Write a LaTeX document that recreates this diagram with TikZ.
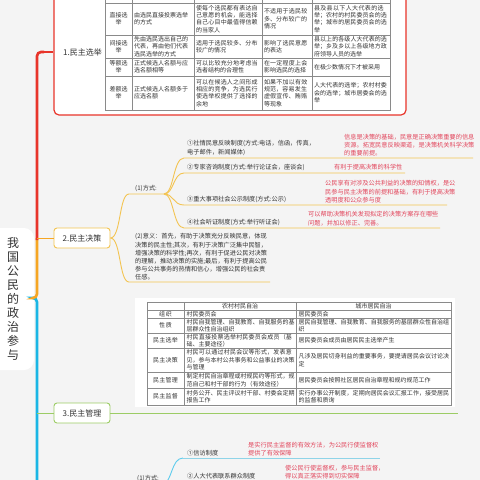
\documentclass[tikz,border=0pt]{standalone}
\usepackage{fontspec}
\setmainfont{Noto Sans CJK SC}
\XeTeXlinebreaklocale "zh"
\XeTeXlinebreakskip=0pt plus 1pt
\definecolor{bgc}{HTML}{F4F4F4}
\definecolor{txt}{HTML}{333333}
\definecolor{notec}{HTML}{E2455B}
\definecolor{cRed}{HTML}{E8342A}
\definecolor{cOrg}{HTML}{F6A623}
\definecolor{cOrgL}{HTML}{F3C452}
\definecolor{cCyan}{HTML}{1AB6E5}
\definecolor{cCyanL}{HTML}{8FD4E8}
\definecolor{cGreen}{HTML}{9CCC65}
\definecolor{grid}{HTML}{8A8A8A}
\begin{document}
\begin{tikzpicture}[x=1pt,y=-1pt,
  tx/.style={font=\fontsize{6.2}{8.2}\selectfont, text=txt, inner sep=0pt, align=left},
  notetx/.style={tx, text=notec},
  tc/.style={font=\fontsize{6}{7.3}\selectfont, text=txt, inner sep=0pt, align=left},
  tcc/.style={tc, align=center},
  td/.style={font=\fontsize{6}{7.5}\selectfont, text=txt, inner sep=0pt, align=left},
  tdc/.style={td, align=center},
  branchbox/.style={draw, rounded corners=3pt, fill=white, line width=0.9pt, minimum width=56pt, minimum height=20pt, inner sep=0pt, font=\fontsize{8}{9}\selectfont, text=txt},
  trunk/.style={line width=2.6pt, rounded corners=4pt},
  b2line/.style={cOrgL, line width=0.9pt},
  b4line/.style={cCyanL, line width=0.9pt},
  gridline/.style={grid, line width=0.45pt}
]
\useasboundingbox (0,0) rectangle (480,480);
\fill[bgc] (0,0) rectangle (480,480);

% ---------- root ----------
\node[fill=white, rounded corners=10pt, minimum width=46pt, minimum height=142pt, inner sep=0pt] (root) at (11,299) {};
\node[font=\fontsize{12}{14}\selectfont, text=txt, align=center, inner sep=0pt] (roottext) at (13,299) {我\\国\\公\\民\\的\\政\\治\\参\\与};

% ---------- trunk ----------
\draw[trunk, cCyan] (root.east |- 0,298) -| (37,490);
\draw[trunk, cOrg] (root.east |- 0,298) -| (37,238);
\draw[trunk, cRed] (37,240) |- (44,52);

% ---------- branch 1 ----------
\node[draw=cRed, line width=1.2pt, rounded corners=5pt, fill=white, minimum width=352pt, minimum height=125pt, inner sep=0pt] (frame) at (230,52.5) {};
\draw[cRed, line width=1.4pt] (42,52) -- (frame.west |- 0,52);
\node[font=\fontsize{8}{9}\selectfont, text=txt, inner sep=0pt, anchor=west] (b1) at (63,52) {1.民主选举};

% table 1 grid
\draw[gridline] (105,-12) -- (105,110) -- (390,110) -- (390,-12);
\foreach \xx in {132,194,262,312} \draw[gridline] (\xx,-12) -- (\xx,110);
\foreach \yy in {3,35,58,76} \draw[gridline] (105,\yy) -- (390,\yy);

% row 1
\node[tcc] (t11) at (118.5,19) {直接选\\举};
\node[tc, text width=54pt] (t12) at (161,19) {由选民直接投票选举的方式};
\node[tc, text width=64pt] (t13) at (228,19) {使每个选民都有表达自己意愿的机会，能选择自己心目中最值得信赖的当家人};
\node[tc, text width=46pt] (t14) at (287,19) {不适用于选民较多、分布较广的情况};
\node[tc, text width=74pt] (t15) at (351,19) {县及县以下人大代表的选举；农村的村民委员会的选举；城市的居民委员会的选举};
% row 2
\node[tcc] (t21) at (118.5,46.5) {间接选\\举};
\node[tc, text width=54pt] (t22) at (161,46.5) {先由选民选出自己的代表，再由他们代表选民选举的方式};
\node[tc, text width=64pt] (t23) at (228,46.5) {适用于选民较多、分布较广的情况};
\node[tc, text width=46pt] (t24) at (287,46.5) {影响了选民意愿的表达};
\node[tc, text width=74pt] (t25) at (351,46.5) {县以上的各级人大代表的选举；乡及乡以上各级地方政府领导人员的选举};
% row 3
\node[tcc] (t31) at (118.5,67) {等额选\\举};
\node[tc, text width=54pt] (t32) at (161,67) {正式候选人名额与应选名额相等};
\node[tc, text width=64pt] (t33) at (228,67) {可以比较充分地考虑当选者结构的合理性};
\node[tc, text width=46pt] (t34) at (287,67) {在一定程度上会影响选民的选择};
\node[tc, text width=74pt] (t35) at (351,67) {在极少数情况下才被采用};
% row 4
\node[tcc] (t41) at (118.5,93) {差额选\\举};
\node[tc, text width=54pt] (t42) at (161,93) {正式候选人名额多于应选名额};
\node[tc, text width=64pt] (t43) at (228,93) {可以在候选人之间形成相应的竞争，为选民行使选举权提供了选择的余地};
\node[tc, text width=46pt] (t44) at (287,93) {如果不加以有效规范，容易发生虚假宣传、贿赂等现象};
\node[tc, text width=74pt] (t45) at (351,93) {人大代表的选举；农村村委会的选举；城市居委会的选举};

% ---------- branch 2 ----------
\node[branchbox, draw=cOrgL] (b2) at (82,238) {2.民主决策};
\draw[cOrg, line width=0.9pt] (37,238) -- (b2.west);

\coordinate (m1a) at (129,194);
\coordinate (m1b) at (164,194);
\node[tx, anchor=south west] (m1) at (135,192) {(1)方式:};
\draw[b2line] (b2.east) .. controls (121,238) and (119,194) .. (m1a) -- (m1b);

\coordinate (i1) at (184,158);
\coordinate (i2) at (184,173);
\coordinate (i3) at (184,205);
\coordinate (i4) at (184,228);
\draw[b2line] (m1b) .. controls (174,194) and (173,158) .. (i1) -- (473,158);
\draw[b2line] (m1b) .. controls (174,194) and (173,173) .. (i2) -- (405,173);
\draw[b2line] (m1b) .. controls (174,194) and (173,205) .. (i3) -- (447,205);
\draw[b2line] (m1b) .. controls (174,194) and (173,228) .. (i4) -- (440,228);

\node[tx, anchor=south west] (w1) at (187,155.5) {①社情民意反映制度(方式:电话，信函，传真，\\电子邮件，新闻媒体)};
\node[tx, anchor=south west] (w2) at (187,171) {②专家咨询制度(方式:举行论证会，座谈会)};
\node[tx, anchor=south west] (w3) at (187,203) {③重大事项社会公示制度(方式:公示)};
\node[tx, anchor=south west] (w4) at (187,226) {④社会听证制度(方式:举行听证会)};

\node[notetx, anchor=south west] (n1) at (344,156.5) {信息是决策的基础，民意是正确决策重要的信息\\资源。拓宽民意反映渠道，是决策机关科学决策\\的重要前提。};
\node[notetx, anchor=south west] (n2) at (334,170) {有利于提高决策的科学性};
\node[notetx, anchor=south west] (n3) at (325,203) {公民享有对涉及公共利益的决策的知情权，是公\\民参与民主决策的前提和基础，有利于提高决策\\透明度和公众参与度};
\node[notetx, anchor=south west] (n4) at (308,226) {可以帮助决策机关发现拟定的决策方案存在哪些\\问题，并加以修正、完善。};

\draw[b2line] (b2.east) .. controls (121,238) and (119,282) .. (129,282) -- (270,282);
\node[tx, anchor=south west] (m2) at (135,280.5) {(2)意义：首先，有助于决策充分反映民意，体现\\决策的民主性;其次，有利于决策广泛集中民智，\\增强决策的科学性;再次，有利于促进公民对决策\\的理解，推动决策的实施;最后，有利于提高公民\\参与公共事务的热情和信心，增强公民的社会责\\任感。};

% ---------- branch 3 ----------
\fill[white] (135,298) rectangle (455,407);
\draw[gridline] (147,302) rectangle (451,405);
\foreach \xx in {184,296} \draw[gridline] (\xx,302) -- (\xx,405);
\foreach \yy in {310,318,333,348,372,388} \draw[gridline] (147,\yy) -- (451,\yy);

\node[tdc] (h2) at (240,306) {农村村民自治};
\node[tdc] (h3) at (373.5,306) {城市居民自治};

\node[tdc, text width=33pt] (s11) at (165.5,314) {组织};
\node[td, text width=108pt] (s12) at (240.5,314) {村民委员会};
\node[td, text width=151pt] (s13) at (374,314) {居民委员会};

\node[tdc, text width=33pt] (s21) at (165.5,325.5) {性质};
\node[td, text width=108pt] (s22) at (240.5,325.5) {村民自我管理、自我教育、自我服务的基层群众性自治组织};
\node[td, text width=151pt] (s23) at (374,325.5) {居民自我管理、自我教育、自我服务的基层群众性自治组织};

\node[tdc, text width=33pt] (s31) at (165.5,340.5) {民主选举};
\node[td, text width=108pt] (s32) at (240.5,340.5) {村民直接投票选举村民委员会成员（基础、主要途径）};
\node[td, text width=151pt] (s33) at (374,340.5) {居民委员会成员由居民民主选举产生};

\node[tdc, text width=33pt] (s41) at (165.5,360) {民主决策};
\node[td, text width=108pt] (s42) at (240.5,360) {村民可以通过村民会议等形式，发表意见，参与本村公共事务和公益事业的决策与管理};
\node[td, text width=151pt] (s43) at (374,360) {凡涉及居民切身利益的重要事务，要提请居民会议讨论决定};

\node[tdc, text width=33pt] (s51) at (165.5,380) {民主管理};
\node[td, text width=108pt] (s52) at (240.5,380) {制定村民自治章程或村规民约等形式，规范自己和村干部的行为（有效途径）};
\node[td, text width=151pt] (s53) at (374,380) {居民委员会按照社区居民自治章程和规约规范工作};

\node[tdc, text width=33pt] (s61) at (165.5,396.5) {民主监督};
\node[td, text width=108pt] (s62) at (240.5,396.5) {村务公开、民主评议村干部、村委会定期报告工作};
\node[td, text width=151pt] (s63) at (374,396.5) {实行办事公开制度，定期向居民会议汇报工作，接受居民的监督和质询};

\node[branchbox, draw=cGreen] (b3) at (82,413) {3.民主管理};
\draw[cGreen, line width=0.9pt] (37,413) -- (b3.west);
\draw[cGreen, line width=0.9pt] (b3.east) -- (458,413);

% ---------- branch 4 (partly visible) ----------
\coordinate (p1a) at (130,483.5);
\coordinate (p1b) at (163,483.5);
\node[tx, anchor=south west] (p1) at (137,481.5) {(1)方式:};
\draw[b4line] (p1a) -- (p1b);
\coordinate (j1) at (183,458);
\coordinate (j2) at (183,481);
\draw[cCyan!70, line width=0.9pt] (p1b) .. controls (172,483.5) and (171,458) .. (j1);
\draw[b4line] (j1) -- (380,458);
\draw[cCyan!70, line width=0.9pt] (p1b) .. controls (172,483.5) and (174,481) .. (j2);
\draw[b4line] (j2) -- (390,481);
\node[tx, anchor=south west] (v1) at (187,456) {①信访制度};
\node[tx, anchor=south west] (v2) at (187,479) {②人大代表联系群众制度};
\node[notetx, anchor=south west] (q1) at (248,456) {是实行民主监督的有效方法，为公民行使监督权\\提供了有效保障};
\node[notetx, anchor=south west] (q2) at (285,479) {使公民行使监督权，参与民主监督，\\得以真正落实得到切实保障};
\end{tikzpicture}
\end{document}
